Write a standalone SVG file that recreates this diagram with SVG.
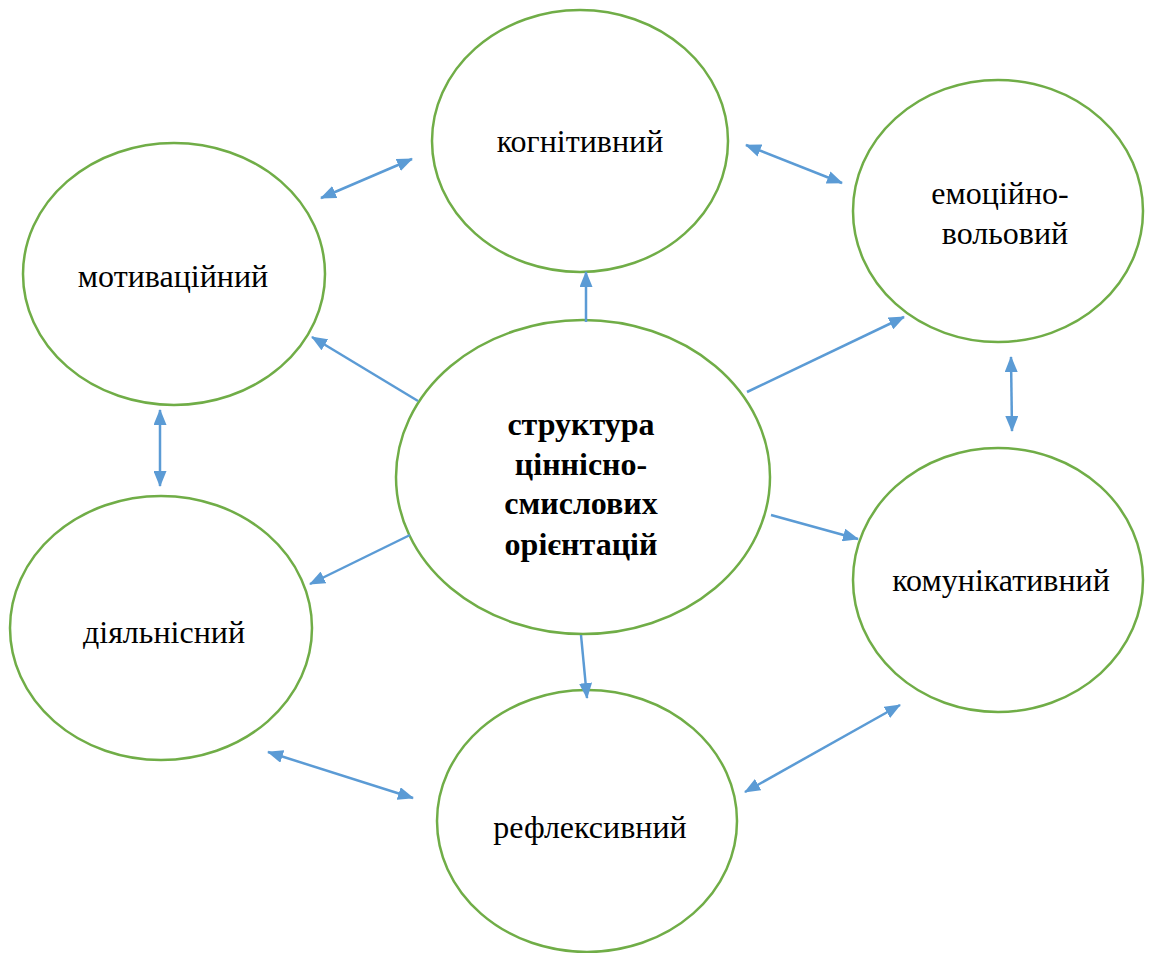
<svg xmlns="http://www.w3.org/2000/svg" width="1157" height="953" viewBox="0 0 1157 953">
<defs>
<style>
.n{fill:#fff;stroke:#70AD47;stroke-width:2.5}
.t{font-family:"Liberation Serif","Times New Roman",serif;font-size:32px;fill:#000;text-anchor:middle}
.b{font-weight:bold}
.c{stroke:#5B9BD5;stroke-width:2.5;fill:none}
</style>
<marker id="ah" viewBox="0 0 16 13" refX="15" refY="6.5" markerWidth="16" markerHeight="13" markerUnits="userSpaceOnUse" orient="auto-start-reverse">
<path d="M0,0 L16,6.5 L0,13 z" fill="#5B9BD5"/>
</marker>
</defs>
<rect width="1157" height="953" fill="#fff"/>
<g id="n-kog"><ellipse class="n" cx="580" cy="141" rx="148" ry="131"/><text class="t" x="580" y="152">когнітивний</text></g>
<g id="n-mot"><ellipse class="n" cx="174" cy="274" rx="151" ry="131"/><text class="t" x="173" y="287">мотиваційний</text></g>
<g id="n-emo"><ellipse class="n" cx="998" cy="211" rx="145" ry="131"/><text class="t" x="1000" y="204">емоційно-</text><text class="t" x="1005" y="244">вольовий</text></g>
<g id="n-center"><ellipse class="n" cx="583" cy="477" rx="187" ry="157"/><text class="t b" x="581" y="435">структура</text><text class="t b" x="581" y="475">ціннісно-</text><text class="t b" x="581" y="514">смислових</text><text class="t b" x="581" y="555">орієнтацій</text></g>
<g id="n-diy"><ellipse class="n" cx="161" cy="628" rx="151" ry="132"/><text class="t" x="164" y="643">діяльнісний</text></g>
<g id="n-kom"><ellipse class="n" cx="998" cy="580" rx="145" ry="132"/><text class="t" x="1001" y="591">комунікативний</text></g>
<g id="n-ref"><ellipse class="n" cx="587" cy="821" rx="150" ry="131"/><text class="t" x="590" y="838">рефлексивний</text></g>
<g id="connectors">
<line class="c" x1="321" y1="198" x2="412" y2="159" marker-start="url(#ah)" marker-end="url(#ah)"/>
<line class="c" x1="746" y1="145" x2="842" y2="183" marker-start="url(#ah)" marker-end="url(#ah)"/>
<line class="c" x1="586" y1="322" x2="586" y2="272" marker-end="url(#ah)"/>
<line class="c" x1="1011" y1="357" x2="1012" y2="431" marker-start="url(#ah)" marker-end="url(#ah)"/>
<line class="c" x1="160" y1="410" x2="160" y2="486" marker-start="url(#ah)" marker-end="url(#ah)"/>
<line class="c" x1="268" y1="752" x2="413" y2="798" marker-start="url(#ah)" marker-end="url(#ah)"/>
<line class="c" x1="745" y1="792" x2="900" y2="705" marker-start="url(#ah)" marker-end="url(#ah)"/>
<line class="c" x1="418" y1="401" x2="312" y2="337" marker-end="url(#ah)"/>
<line class="c" x1="747" y1="392" x2="904" y2="317" marker-end="url(#ah)"/>
<line class="c" x1="410" y1="535" x2="310" y2="584" marker-end="url(#ah)"/>
<line class="c" x1="771" y1="515" x2="858" y2="539" marker-end="url(#ah)"/>
<line class="c" x1="581" y1="635" x2="587" y2="698" marker-end="url(#ah)"/>
</g>
</svg>
